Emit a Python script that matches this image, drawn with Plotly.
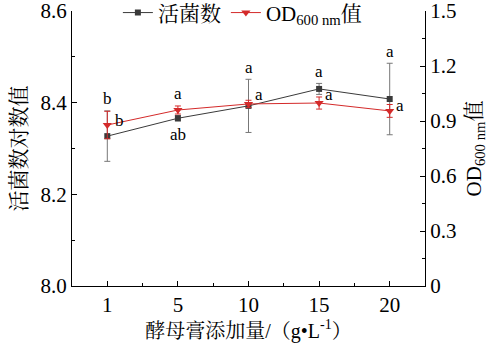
import plotly.graph_objects as go

categories = ["1", "5", "10", "15", "20"]
live_count = [8.327, 8.366, 8.393, 8.430, 8.408]
live_err = [0.055, 0.006, 0.058, 0.012, 0.078]
od600 = [0.878, 0.960, 0.993, 0.998, 0.955]
od_err = [0.075, 0.022, 0.020, 0.033, 0.035]
live_labels = ["b", "ab", "a", "a", "a"]
od_labels = ["b", "a", "a", "a", "a"]

xs = list(range(len(categories)))
serif = "Liberation Serif, Times New Roman, serif"
cjk = "Liberation Serif, Noto Serif CJK SC, Noto Sans CJK SC, serif"
BLACK = "#3a3a3a"
RED = "#d42a2a"

fig = go.Figure()
fig.add_trace(go.Scatter(
    x=xs, y=live_count, name="活菌数", mode="lines+markers",
    line=dict(color=BLACK, width=1),
    marker=dict(symbol="square", size=6, color=BLACK),
    error_y=dict(type="data", array=live_err, color="#777777", thickness=1, width=3),
    yaxis="y"))
fig.add_trace(go.Scatter(
    x=xs, y=od600, name="OD<sub>600 nm</sub>值", mode="lines+markers",
    line=dict(color=RED, width=1),
    marker=dict(symbol="triangle-down", size=8, color=RED),
    error_y=dict(type="data", array=od_err, color=RED, thickness=1, width=3),
    yaxis="y2"))

annotations = []
for i, t in enumerate(live_labels):
    if t == "ab":
        annotations.append(dict(x=xs[i], y=live_count[i] - live_err[i], xref="x", yref="y",
                                text=t, showarrow=False, yshift=-13))
    else:
        annotations.append(dict(x=xs[i], y=live_count[i] + live_err[i], xref="x", yref="y",
                                text=t, showarrow=False, yshift=12))
for i, t in enumerate(od_labels):
    if i == 1:
        annotations.append(dict(x=xs[i], y=od600[i] + od_err[i], xref="x", yref="y2",
                                text=t, showarrow=False, yshift=12))
    else:
        annotations.append(dict(x=xs[i], y=od600[i], xref="x", yref="y2",
                                text=t, showarrow=False, xshift=10 if i else 12,
                                yshift=9 if i in (2, 3) else 5))
for a in annotations:
    a["font"] = dict(family=serif, size=17, color="black")

fig.update_layout(
    width=493, height=350,
    margin=dict(l=72, r=68, t=11, b=64, autoexpand=False),
    paper_bgcolor="white", plot_bgcolor="white",
    font=dict(family=cjk, size=20, color="black"),
    showlegend=True,
    legend=dict(orientation="h", x=0.13, y=0.993, xanchor="left", yanchor="middle",
                font=dict(family=cjk, size=21), bgcolor="rgba(0,0,0,0)",
                itemwidth=30, tracegroupgap=0, borderwidth=0),
    xaxis=dict(range=[-0.5, 4.5], tickmode="array", tickvals=xs, ticktext=categories,
               showline=True, linecolor="black", linewidth=1,
               ticks="inside", ticklen=5, tickcolor="black",
               minor=dict(tickvals=[0.5, 1.5, 2.5, 3.5], ticks="inside", ticklen=3, tickcolor="black"),
               showgrid=False, zeroline=False, ticklabeloverflow="allow",
               tickfont=dict(family=serif, size=21),
               title=dict(text="酵母膏添加量/（g•L<sup>-1</sup>）", font=dict(family=cjk, size=20), standoff=4)),
    yaxis=dict(range=[8.0, 8.6], dtick=0.2, tick0=8.0, tickformat=".1f",
               showline=True, linecolor="black", linewidth=1,
               ticks="inside", ticklen=5, tickcolor="black",
               minor=dict(dtick=0.1, ticks="inside", ticklen=3, tickcolor="black"),
               showgrid=False, zeroline=False, ticklabeloverflow="allow",
               tickfont=dict(family=serif, size=21),
               title=dict(text="活菌数对数值", font=dict(family=cjk, size=21), standoff=8)),
    yaxis2=dict(range=[0, 1.5], dtick=0.3, tick0=0, overlaying="y", side="right",
                showline=True, linecolor="black", linewidth=1,
                ticks="inside", ticklen=5, tickcolor="black",
                minor=dict(dtick=0.15, ticks="inside", ticklen=3, tickcolor="black"),
                showgrid=False, zeroline=False, ticklabeloverflow="allow",
                tickfont=dict(family=serif, size=21),
                title=dict(text="OD<sub>600 nm</sub>值", font=dict(family=cjk, size=21), standoff=10)),
    annotations=annotations,
)

fig.write_html("out.html")
